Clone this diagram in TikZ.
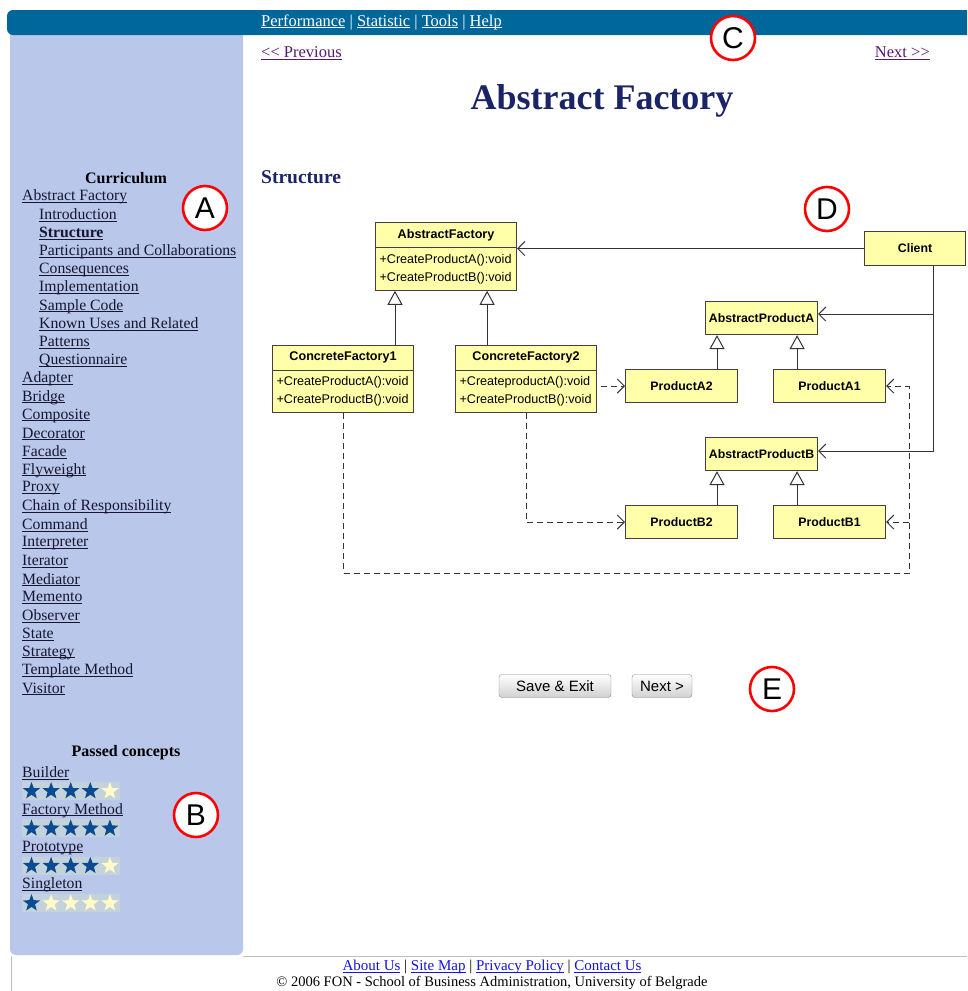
\documentclass[tikz,border=0pt]{standalone}
\usepackage{fontspec}
\setmainfont{Liberation Serif}
\newfontfamily\arialfont{Liberation Sans}
\usetikzlibrary{arrows.meta,shapes.geometric,shapes.multipart}

\definecolor{barblue}{RGB}{0,103,154}
\definecolor{sideblue}{RGB}{185,199,234}
\definecolor{titlenavy}{RGB}{27,36,102}
\definecolor{linkdark}{RGB}{22,22,48}
\definecolor{visited}{RGB}{85,26,110}
\definecolor{footblue}{RGB}{20,20,220}
\definecolor{umlyellow}{RGB}{255,255,170}
\definecolor{starblue}{RGB}{10,75,145}
\definecolor{starpale}{RGB}{255,250,200}
\definecolor{starbg}{RGB}{196,210,220}

\newcommand{\weblink}[1]{\setbox0\hbox{#1}\rlap{\rule[-2pt]{\wd0}{0.8pt}}\box0\relax}

\begin{document}
\begin{tikzpicture}[x=1pt,y=-1pt]
\tikzstyle{side}=[anchor=west, inner sep=0pt, text=linkdark, font=\fontsize{15.7}{18}\selectfont]
\tikzstyle{head}=[inner sep=0pt, font=\bfseries\fontsize{16}{18}\selectfont]
\tikzstyle{cls}=[draw=black!75, fill=umlyellow, line width=1.1pt, anchor=north west]
\tikzstyle{simple}=[cls, minimum width=112pt, minimum height=33pt, inner sep=0pt, font=\arialfont\bfseries\fontsize{12.3}{14}\selectfont]
\tikzstyle{split}=[cls, rectangle split, rectangle split parts=2, rectangle split part align={center,left}, align=left, minimum width=141pt, inner xsep=4pt, inner ysep=6pt, font=\arialfont\fontsize{12.6}{18}\selectfont]
\tikzstyle{uses}=[-{Straight Barb[length=7pt,width=14pt]}, line width=1pt, draw=black!80]
\tikzstyle{dep}=[uses, dash pattern=on 6pt off 4pt]
\tikzstyle{inh}=[-{Triangle[open,length=14pt,width=15pt,fill=white]}, line width=1pt, draw=black!80]
\tikzstyle{tag}=[circle, draw=red, line width=2.6pt, fill=white, minimum size=44pt, inner sep=0pt, font=\arialfont\fontsize{30}{30}\selectfont]
\tikzstyle{btn}=[draw=black!45, rounded corners=3pt, top color=white, bottom color=black!18, minimum height=23pt, inner sep=0pt, font=\arialfont\fontsize{15}{15}\selectfont]
\tikzstyle{ratestar}=[star, star points=5, star point ratio=2.4, minimum size=18pt, inner sep=0pt]

\useasboundingbox (0,0) rectangle (967,991);
\clip (0,0) rectangle (967,991);
\fill[white] (0,0) rectangle (967,991);
\fill[sideblue, rounded corners=6pt] (10,28) rectangle (243,955);
\fill[barblue, rounded corners=6pt] (7,10) rectangle (990,35);
\draw[black!25, line width=1pt] (243,956) -- (967,956);
\draw[black!25, line width=1pt] (11,956) -- (11,991);

\node (nav) [anchor=west, inner sep=0pt, text=white, font=\fontsize{16.5}{18}\selectfont] at (261,22)
  {\weblink{Performance} | \weblink{Statistic} | \weblink{Tools} | \weblink{Help}};
\node (prev) [anchor=west, inner sep=0pt, text=visited, font=\fontsize{16.5}{18}\selectfont] at (261,53) {\weblink{<{}< Previous}};
\node (next) [anchor=east, inner sep=0pt, text=visited, font=\fontsize{16.5}{18}\selectfont] at (930,53) {\weblink{Next >{}>}};
\node (title) [text=titlenavy, font=\bfseries\fontsize{36}{36}\selectfont] at (602,101) {Abstract Factory};
\node (struct) [anchor=west, inner sep=0pt, text=titlenavy, font=\bfseries\fontsize{19.5}{20}\selectfont] at (261,177) {Structure};

\node (curr) [head] at (126,178) {Curriculum};
\foreach \txt/\xx [count=\i from 0] in {Abstract Factory/22, Introduction/39, {\textbf{Structure}}/39,
  Participants and Collaborations/39, Consequences/39, Implementation/39, Sample Code/39,
  Known Uses and Related/39, Patterns/39, Questionnaire/39, Adapter/22, Bridge/22, Composite/22,
  Decorator/22, Facade/22, Flyweight/22, Proxy/22, Chain of Responsibility/22, Command/22,
  Interpreter/22, Iterator/22, Mediator/22, Memento/22, Observer/22, State/22, Strategy/22,
  Template Method/22, Visitor/22}
  \node (cur\i) [side] at (\xx, 197+18.22*\i) {\weblink{\txt}};

\node (passed) [head] at (126,753) {Passed concepts};
\foreach \nm/\full [count=\r from 0] in {Builder/4, Factory Method/5, Prototype/4, Singleton/1} {
  \node (pc\r) [side] at (22, 773+37.4*\r) {\weblink{\nm}};
  \fill[starbg] (22, 782+37.4*\r) rectangle (120, 800+37.4*\r);
  \foreach \k in {1,...,5} {
    \ifnum\k>\full \def\starcol{starpale}\else \def\starcol{starblue}\fi
    \node (st\r\k) [ratestar, fill=\starcol] at (11.9+19.6*\k, 791+37.4*\r) {};
  }
}

\node (afac) [split] at (375,222) {\textbf{AbstractFactory}\nodepart{two}+CreateProductA():void\\+CreateProductB():void};
\node (cf1) [split] at (272,345) {\textbf{ConcreteFactory1}\nodepart{two}+CreateProductA():void\\+CreateProductB():void};
\node (cf2) [split] at (455,345) {\textbf{ConcreteFactory2}\nodepart{two}+CreateproductA():void\\+CreateProductB():void};
\node (client) [simple, minimum width=101pt, minimum height=34pt] at (864,231) {Client};
\node (apa) [simple] at (705,301) {AbstractProductA};
\node (pa2) [simple] at (625,369) {ProductA2};
\node (pa1) [simple] at (773,369) {ProductA1};
\node (apb) [simple] at (705,437) {AbstractProductB};
\node (pb2) [simple] at (625,505) {ProductB2};
\node (pb1) [simple] at (773,505) {ProductB1};

\draw[uses] (client.west) -- (client.west -| afac.east);
\coordinate (trunk) at (933,450);
\draw[uses] (client.south -| trunk) |- ([yshift=3pt]apb.east);
\draw[uses] ([yshift=4pt]apa.east -| trunk) -- ([yshift=4pt]apa.east);

\coordinate (h1) at ([xshift=20pt]afac.south west);
\coordinate (h2) at ([xshift=-30pt]afac.south east);
\draw[inh] (cf1.north -| h1) -- (h1);
\draw[inh] (cf2.north -| h2) -- (h2);
\coordinate (ha2) at ([xshift=12pt]apa.south west);
\coordinate (ha1) at ([xshift=-21pt]apa.south east);
\draw[inh] (pa2.north -| ha2) -- (ha2);
\draw[inh] (pa1.north -| ha1) -- (ha1);
\coordinate (hb2) at ([xshift=12pt]apb.south west);
\coordinate (hb1) at ([xshift=-21pt]apb.south east);
\draw[inh] (pb2.north -| hb2) -- (hb2);
\draw[inh] (pb1.north -| hb1) -- (hb1);

\draw[dep] ([xshift=4pt]cf2.east |- pa2.west) -- (pa2.west);
\draw[dep] (cf2.south) |- (pb2.west);
\coordinate (loop) at (909,573);
\draw[dep] (cf1.south) |- (loop) |- (pa1.east);
\draw[dep] (pb1.east -| loop) -- (pb1.east);

\node (save) [btn, minimum width=112pt] at (555,686) {Save \& Exit};
\node (nxt) [btn, minimum width=60pt] at (662,686) {Next >};

\node (tagA) [tag] at (205,208) {A};
\node (tagB) [tag] at (196,815) {B};
\node (tagC) [tag] at (733,38) {C};
\node (tagD) [tag] at (827,209) {D};
\node (tagE) [tag] at (772,689) {E};

\node (foot) [inner sep=0pt, text=footblue, font=\fontsize{15}{15}\selectfont] at (492,967)
  {\weblink{About Us} {\color{black}|} \weblink{Site Map} {\color{black}|} \weblink{Privacy Policy} {\color{black}|} \weblink{Contact Us}};
\node (copy) [inner sep=0pt, font=\fontsize{14.5}{15}\selectfont] at (492,983)
  {© 2006 FON - School of Business Administration, University of Belgrade};
\end{tikzpicture}
\end{document}
